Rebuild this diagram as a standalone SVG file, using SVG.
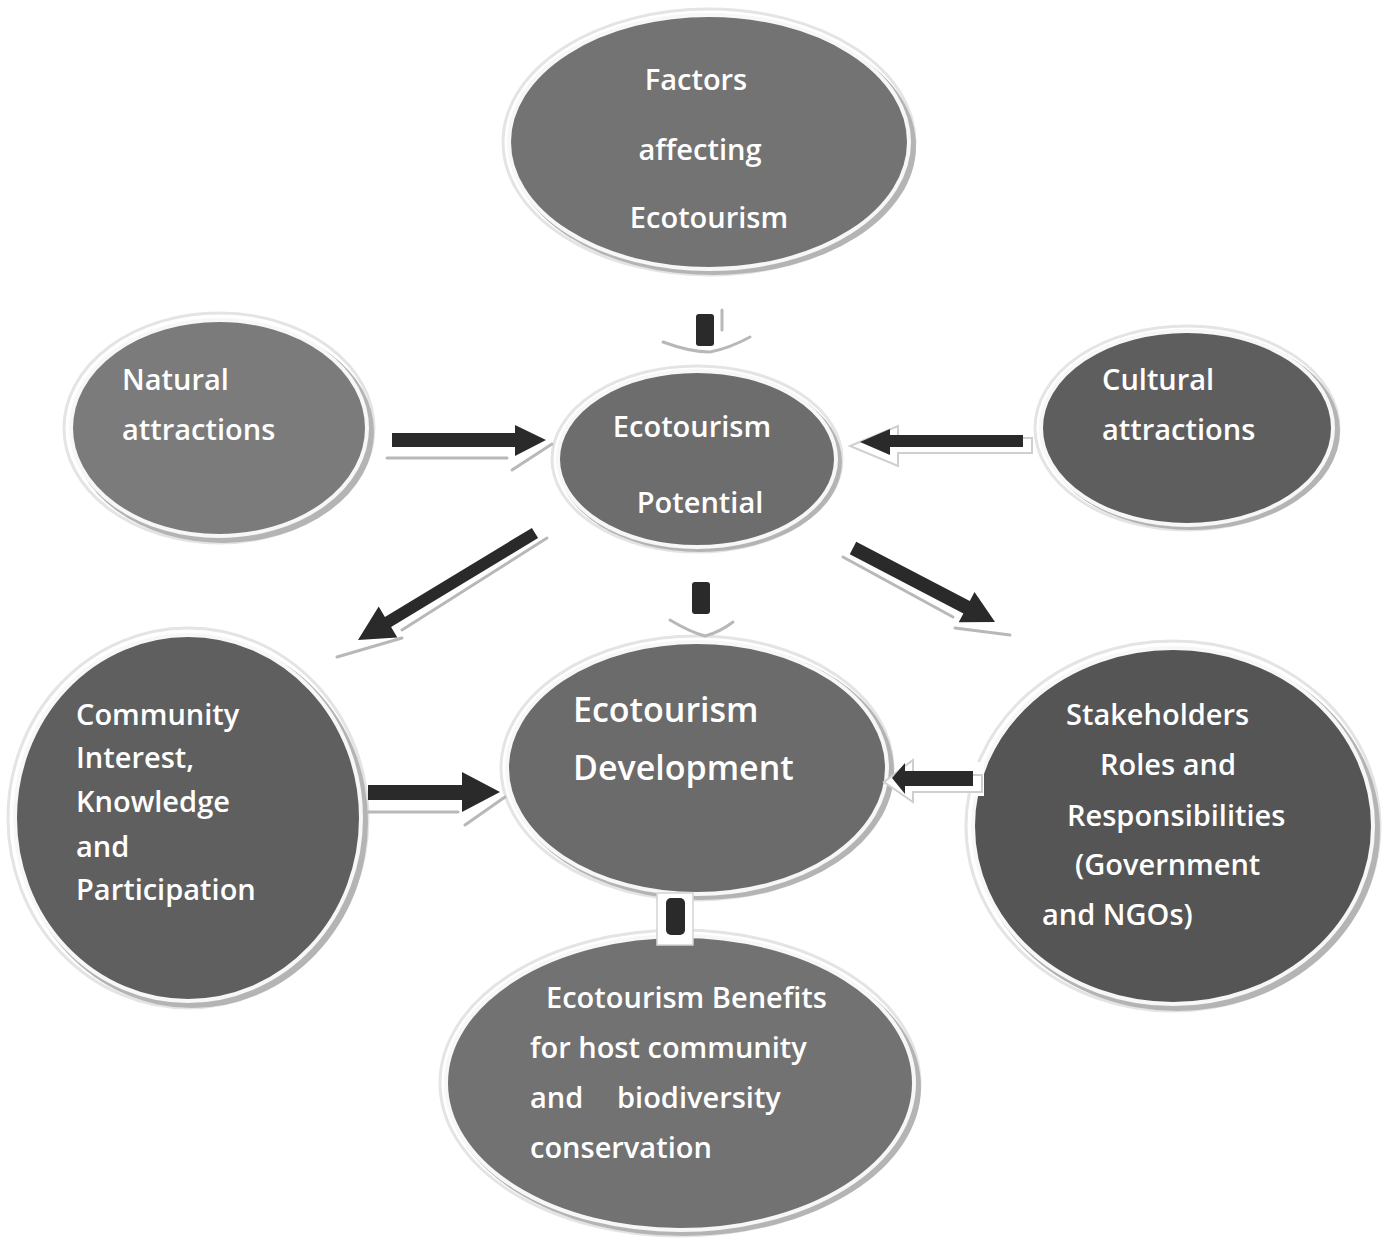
<svg xmlns="http://www.w3.org/2000/svg" width="1388" height="1238" viewBox="0 0 1388 1238">
<defs>
<style>
.sh{fill:#b4b4b4}
.halo{fill:none;stroke:#e4e4e4;stroke-width:3}
.node{stroke:#f7f7f7;stroke-width:4}
.t{font-family:"Open Sans","Liberation Sans",sans-serif;font-weight:600;font-size:29px;fill:#ffffff}
.tc{text-anchor:middle}
.big{font-size:34px}
.dark{fill:#2a2a2a}
.gl{fill:none;stroke:#b8b8b8;stroke-width:3;stroke-linecap:round;stroke-linejoin:round}
.wl{fill:#ffffff;stroke:#cfcfcf;stroke-width:2}
</style>
</defs>
<rect width="1388" height="1238" fill="#ffffff"/>

<g id="factors">
<ellipse class="halo" cx="709" cy="142" rx="206" ry="133"/>
<ellipse class="sh" cx="713" cy="146" rx="203" ry="129"/>
<ellipse class="node" cx="709" cy="142" rx="200" ry="127" fill="#737373"/>
<text class="t tc" x="696" y="90">Factors</text>
<text class="t tc" x="700" y="160">affecting</text>
<text class="t tc" x="709" y="228">Ecotourism</text>
</g>

<g id="natural">
<ellipse class="halo" cx="219" cy="428" rx="155" ry="115"/>
<ellipse class="sh" cx="223" cy="432" rx="151" ry="111"/>
<ellipse class="node" cx="219" cy="428" rx="148" ry="108" fill="#7b7b7b"/>
<text class="t" x="122" y="390">Natural</text>
<text class="t" x="122" y="440">attractions</text>
</g>

<g id="potential">
<ellipse class="halo" cx="697" cy="459" rx="145" ry="93"/>
<ellipse class="sh" cx="700" cy="462" rx="142" ry="90"/>
<ellipse class="node" cx="697" cy="459" rx="139" ry="88" fill="#6d6d6d"/>
<text class="t tc" x="692" y="437">Ecotourism</text>
<text class="t tc" x="700" y="513">Potential</text>
</g>

<g id="cultural">
<ellipse class="halo" cx="1187" cy="428" rx="152" ry="102"/>
<ellipse class="sh" cx="1191" cy="431" rx="149" ry="99"/>
<ellipse class="node" cx="1187" cy="428" rx="146" ry="97" fill="#5e5e5e"/>
<text class="t" x="1102" y="390">Cultural</text>
<text class="t" x="1102" y="440">attractions</text>
</g>

<g id="community">
<ellipse class="halo" cx="188" cy="818" rx="180" ry="190"/>
<ellipse class="sh" cx="192" cy="822" rx="176" ry="186"/>
<ellipse class="node" cx="188" cy="818" rx="173" ry="183" fill="#5f5f5f"/>
<text class="t" x="76" y="725">Community</text>
<text class="t" x="76" y="768">Interest,</text>
<text class="t" x="76" y="812">Knowledge</text>
<text class="t" x="76" y="857">and</text>
<text class="t" x="76" y="900">Participation</text>
</g>

<g id="development">
<ellipse class="halo" cx="697" cy="768" rx="196" ry="132"/>
<ellipse class="sh" cx="701" cy="771" rx="193" ry="129"/>
<ellipse class="node" cx="697" cy="768" rx="190" ry="126" fill="#6b6b6b"/>
<text class="t big" x="573" y="722">Ecotourism</text>
<text class="t big" x="573" y="780">Development</text>
</g>

<g id="stakeholders">
<ellipse class="halo" cx="1173" cy="826" rx="207" ry="185"/>
<ellipse class="sh" cx="1177" cy="830" rx="203" ry="181"/>
<ellipse class="node" cx="1173" cy="826" rx="200" ry="178" fill="#555555"/>
<text class="t" x="1066" y="725">Stakeholders</text>
<text class="t" x="1100" y="775">Roles and</text>
<text class="t" x="1067" y="826">Responsibilities</text>
<text class="t" x="1075" y="875">(Government</text>
<text class="t" x="1042" y="925">and NGOs)</text>
</g>

<g id="benefits">
<ellipse class="halo" cx="680" cy="1083" rx="240" ry="153"/>
<ellipse class="sh" cx="684" cy="1087" rx="237" ry="149"/>
<ellipse class="node" cx="680" cy="1083" rx="234" ry="147" fill="#727272"/>
<text class="t" x="546" y="1008">Ecotourism Benefits</text>
<text class="t" x="530" y="1058">for host community</text>
<text class="t" x="530" y="1108">and</text>
<text class="t" x="617" y="1108">biodiversity</text>
<text class="t" x="530" y="1158">conservation</text>
</g>

<g id="connectors">
<!-- factors to potential -->
<path class="gl" d="M663,342 Q690,352 710,352 Q730,348 750,337"/>
<path class="gl" d="M722,310 L722,330" stroke-width="2"/>
<rect class="dark" x="696" y="314" width="18" height="32" rx="3"/>

<!-- natural to potential -->
<path class="gl" d="M387,458 L507,458"/>
<path class="gl" d="M512,470 L552,444"/>
<polygon class="dark" points="392,433 515,433 515,425 546,440 515,456 515,447 392,447"/>

<!-- cultural to potential -->
<polygon class="wl" points="1032,438 1032,453 898,453 898,466 850,446 898,426 898,438"/>
<polygon class="dark" points="1023,435 1023,447 890,447 890,455 860,442 890,429 890,435"/>

<!-- potential to community -->
<path class="gl" d="M547,538 L402,630"/>
<path class="gl" d="M337,657 L402,638"/>
<polygon class="dark" points="538.1,538.1 391.1,627.1 397.3,637.4 358,640 378.7,606.6 384.9,616.9 531.9,527.9"/>

<!-- potential to development -->
<path class="gl" d="M670,620 Q690,632 705,636 Q720,632 733,622"/>
<rect class="dark" x="692" y="582" width="18" height="32" rx="3"/>

<!-- potential to stakeholders -->
<path class="gl" d="M843,557 L953,617"/>
<path class="gl" d="M955,628 L1010,635"/>
<polygon class="dark" points="856.2,541.8 969.8,601 974.5,592.1 995,622 958.7,622.3 963.4,613.4 849.8,554.2"/>

<!-- community to development -->
<path class="gl" d="M368,812 L458,812"/>
<path class="gl" d="M465,825 L505,797"/>
<polygon class="dark" points="368,785 462,785 462,772 500,792 462,812 462,800 368,800"/>

<!-- stakeholders to development -->
<rect x="972" y="762" width="12" height="34" fill="#ffffff"/>
<polygon class="wl" points="982,775 982,792 913,792 913,802 884,782 913,760 913,775"/>
<polygon class="dark" points="973,771 973,786 905,786 905,794 892,778 905,763 905,771"/>

<!-- benefits to development -->
<rect x="657" y="893" width="36" height="52" fill="#ffffff" stroke="#d4d4d4" stroke-width="1.5"/>
<rect class="dark" x="666" y="898" width="19" height="37" rx="5"/>
</g>
</svg>
